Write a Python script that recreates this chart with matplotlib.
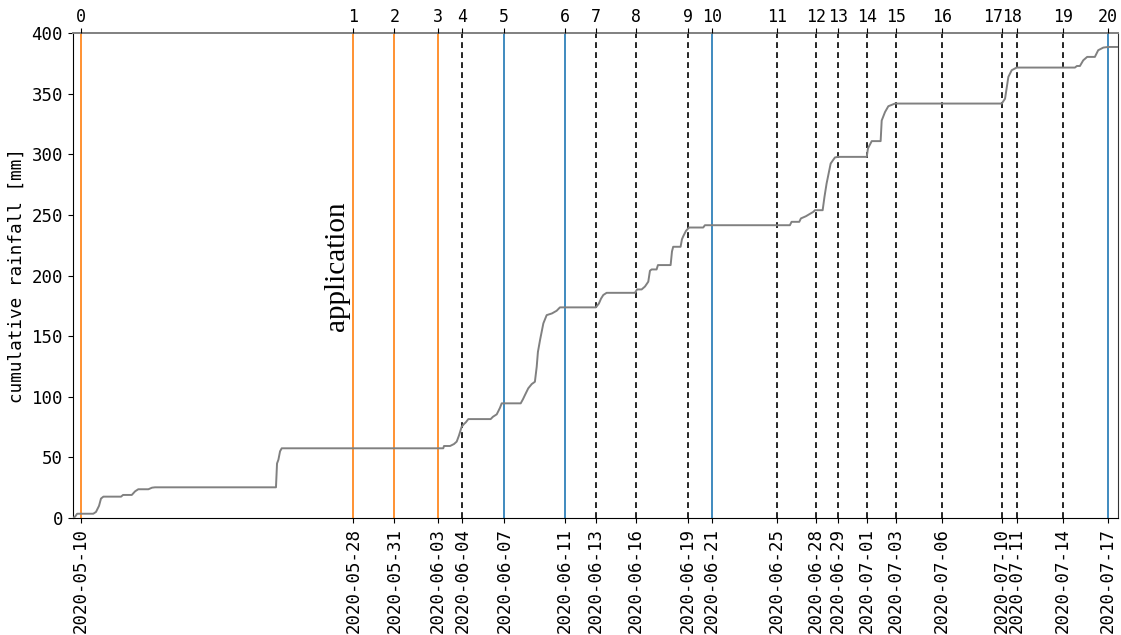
import matplotlib
matplotlib.use("Agg")
import matplotlib.pyplot as plt
import matplotlib.dates as mdates
import matplotlib.transforms as mtransforms
import pandas as pd
import numpy as np

# ---- data ----
sample_ids = list(range(21))
sample_times = ["2020-05-10 12:00", "2020-05-28 12:45", "2020-05-31 06:00", "2020-06-03 02:50",
                "2020-06-04 18:00", "2020-06-07 12:45", "2020-06-11 13:10", "2020-06-13 14:10",
                "2020-06-16 06:15", "2020-06-19 16:20", "2020-06-21 06:30", "2020-06-25 14:10",
                "2020-06-28 03:50", "2020-06-29 14:40", "2020-07-01 13:10", "2020-07-03 10:50",
                "2020-07-06 12:00", "2020-07-10 11:15", "2020-07-11 11:15", "2020-07-14 13:10",
                "2020-07-17 11:45"]
sample_kind = ["app", "app", "app", "app", "dash", "blue", "blue", "dash", "dash", "dash", "blue",
               "dash", "dash", "dash", "dash", "dash", "dash", "dash", "dash", "dash", "blue"]

rain_origin = "2020-05-10 00:00"
rain_days = [-0.05, 0.10, 0.24, 1.31, 1.49, 1.69, 1.82, 1.98, 3.15, 3.28, 3.86, 4.08, 4.29, 4.96,
             5.20, 5.40, 13.41, 13.48, 13.57, 13.68, 13.79, 24.49, 24.54, 24.94, 25.20, 25.38,
             25.53, 25.71, 25.86, 25.99, 26.15, 27.63, 27.78, 28.03, 28.12, 28.25, 28.36, 29.62,
             29.77, 29.90, 30.12, 30.35, 30.56, 30.68, 30.76, 30.90, 31.12, 31.34, 31.69, 32.00,
             32.22, 34.60, 34.80, 34.94, 35.09, 35.31, 37.19, 37.32, 37.63, 37.85, 38.07, 38.18,
             38.29, 38.62, 38.71, 39.55, 39.64, 39.72, 40.21, 40.30, 40.39, 40.57, 40.77, 41.71,
             41.82, 47.45, 47.56, 48.07, 48.18, 48.51, 48.78, 49.00, 49.11, 49.62, 49.74, 49.88,
             50.15, 50.43, 50.63, 52.54, 52.62, 52.87, 53.46, 53.53, 53.75, 53.97, 54.41, 61.48,
             61.70, 61.81, 61.92, 62.14, 62.47, 66.33, 66.46, 66.66, 66.88, 67.14, 67.65, 67.87,
             68.21, 68.52, 69.18]
rain_mm = [0, 1, 3.5, 3.5, 5, 10, 16, 17.6, 17.6, 19, 19, 22, 23.7, 23.7,
           25, 25.3, 25.3, 45, 48, 55, 57.5, 57.5, 59.4, 59.4, 61, 63,
           68, 75.3, 77.5, 79, 81.6, 81.6, 83.5, 85.5, 87.7, 91, 94.6, 94.6,
           98, 101.4, 107, 110.5, 112.4, 124.8, 137, 146.8, 160.6, 167.4, 168.8, 171,
           173.8, 173.8, 177, 181, 184, 185.8, 185.8, 188.6, 188.6, 191, 195, 204,
           205.1, 205.1, 208.7, 208.7, 220, 223.8, 223.8, 230, 232.6, 237, 239.7, 239.7,
           241.6, 241.6, 244.4, 244.4, 247.2, 249, 251, 252.6, 254, 254, 265, 276,
           292.5, 297.5, 298, 298, 305, 311, 311, 328, 335, 339.8, 342, 342,
           346, 355, 364, 369.5, 371.7, 371.7, 373, 373, 377.7, 380.5, 380.5, 386,
           388.2, 388.7, 388.7]

yticks = [0, 50, 100, 150, 200, 250, 300, 350, 400]
ylabel = "cumulative rainfall [mm]"
annotation = "application"

# ---- figure ----
mono = "DejaVu Sans Mono"
fig = plt.figure(figsize=(11.21, 6.35), dpi=100)
ax = fig.add_axes([0.0649, 0.1843, 0.9324, 0.7633])

origin = pd.Timestamp(rain_origin)
rain_t = origin + pd.to_timedelta(np.array(rain_days), unit="D")
st = pd.to_datetime(sample_times)

ax.plot(rain_t, rain_mm, color="gray", lw=1.4, zorder=3)

for t, k in zip(st, sample_kind):
    if k == "app":
        ax.axvline(t, color="#ff7f0e", lw=1.2, zorder=2)
    elif k == "blue":
        ax.axvline(t, color="#1f77b4", lw=1.2, zorder=2)
    else:
        ax.axvline(t, color="black", lw=1.2, ls=(0, (3.5, 2.5)), zorder=2)

xmin = origin + pd.to_timedelta(-0.05, unit="D")
xmax = origin + pd.to_timedelta(69.18, unit="D")
ax.set_xlim(xmin, xmax)
ax.set_ylim(0, 400)
ax.set_yticks(yticks)
ax.set_xticks(st)
ax.xaxis.set_major_formatter(mdates.DateFormatter("%Y-%m-%d"))
for lab in ax.get_xticklabels():
    lab.set_rotation(90)
    lab.set_fontfamily(mono)
    lab.set_fontsize(12.5)
for lab in ax.get_yticklabels():
    lab.set_fontfamily(mono)
    lab.set_fontsize(12.5)
ax.set_ylabel(ylabel, fontfamily=mono, fontsize=12.7)

ax.spines["top"].set_color("gray")
ax.spines["top"].set_linewidth(1.4)
ax.spines["right"].set_color("#333333")

ax2 = ax.twiny()
ax2.set_xlim(ax.get_xlim())
ax2.set_xticks(mdates.date2num(st))
ax2.set_xticklabels([str(i) for i in sample_ids], fontfamily=mono, fontsize=12)
ax2.tick_params(axis="x", pad=2)
for s in ax2.spines.values():
    s.set_visible(False)
# nudge the two crowded top labels apart as in the reference
top_labels = ax2.get_xticklabels()
for idx, dx in ((17, -8), (18, -5)):
    top_labels[idx].set_transform(top_labels[idx].get_transform() +
                                  mtransforms.ScaledTranslation(dx / 100, 0, fig.dpi_scale_trans))

text_t = origin + pd.to_timedelta(17.45, unit="D")
ax.text(text_t, 208, annotation, rotation=90, ha="center", va="center",
        fontfamily="Liberation Serif", fontsize=21)

fig.savefig("out.png", dpi=100)
